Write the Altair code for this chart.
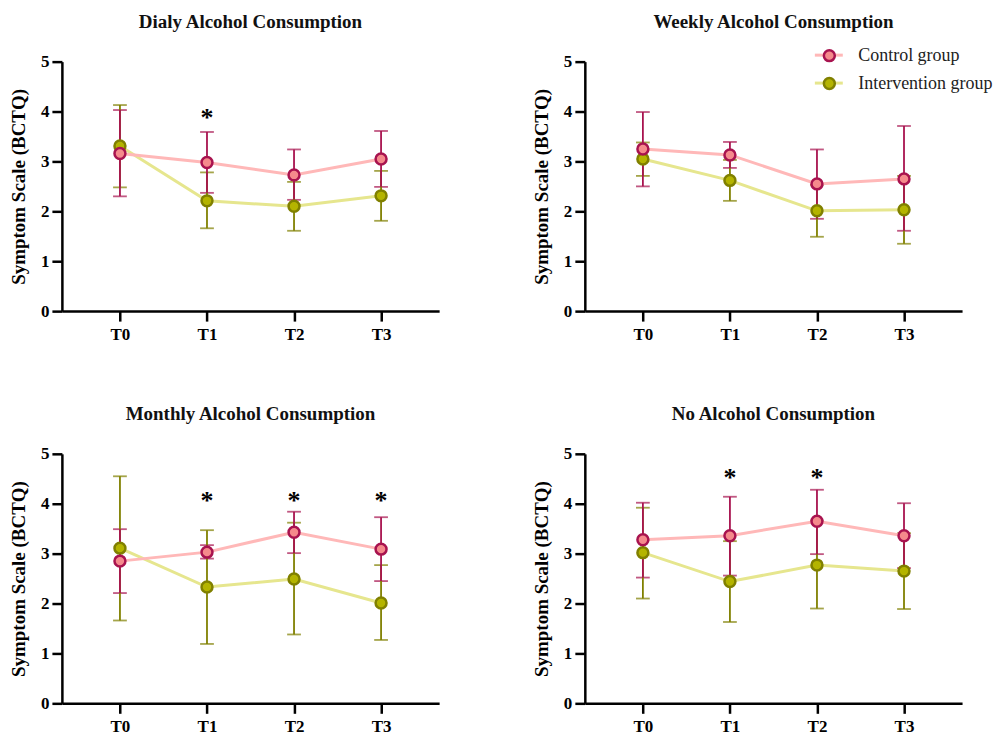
import altair as alt
import pandas as pd

times = ["T0", "T1", "T2", "T3"]
groups = ["Control group", "Intervention group"]
panel_titles = ["Dialy Alcohol Consumption", "Weekly Alcohol Consumption",
                "Monthly Alcohol Consumption", "No Alcohol Consumption"]

control_mean = [
    [3.16, 2.98, 2.73, 3.05],
    [3.25, 3.13, 2.55, 2.65],
    [2.85, 3.03, 3.43, 3.09],
    [3.28, 3.36, 3.65, 3.36],
]
control_low = [
    [2.30, 2.37, 2.23, 2.49],
    [2.50, 2.87, 1.85, 1.61],
    [2.21, 2.90, 3.01, 2.45],
    [2.52, 2.56, 2.99, 2.71],
]
control_high = [
    [4.03, 3.59, 3.24, 3.61],
    [3.99, 3.39, 3.24, 3.71],
    [3.49, 3.17, 3.84, 3.73],
    [4.02, 4.14, 4.28, 4.01],
]
interv_mean = [
    [3.31, 2.21, 2.10, 2.31],
    [3.05, 2.62, 2.01, 2.03],
    [3.11, 2.33, 2.49, 2.01],
    [3.02, 2.44, 2.77, 2.65],
]
interv_low = [
    [2.48, 1.66, 1.61, 1.81],
    [2.71, 2.21, 1.49, 1.35],
    [1.66, 1.19, 1.38, 1.27],
    [2.10, 1.63, 1.90, 1.89],
]
interv_high = [
    [4.13, 2.78, 2.59, 2.81],
    [3.38, 3.03, 2.53, 2.71],
    [4.55, 3.47, 3.62, 2.77],
    [3.92, 3.25, 3.65, 3.41],
]
star_panel = [0, 2, 2, 2, 3, 3]
star_time = ["T1", "T1", "T2", "T3", "T1", "T2"]
star_y = [3.98, 4.17, 4.17, 4.17, 4.64, 4.64]

FONT = "Liberation Serif"
C_LINE = ["#FFB8B8", "#E6E68E"]
C_FILL = ["#F58A8C", "#B4B400"]
C_STROKE = ["#A8134F", "#808000"]
Y_TITLE = "Symptom Scale (BCTQ)"


def make_panel(i, show_legend, title_offset=21):
    rows = []
    for g, m, lo, hi in ((groups[1], interv_mean[i], interv_low[i], interv_high[i]),
                         (groups[0], control_mean[i], control_low[i], control_high[i])):
        for t, a, b, c in zip(times, m, lo, hi):
            rows.append({"time": t, "group": g, "mean": a, "lo": b, "hi": c})
    df = pd.DataFrame(rows)
    sdf = pd.DataFrame({"time": [t for p, t in zip(star_panel, star_time) if p == i],
                        "y": [v for p, v in zip(star_panel, star_y) if p == i],
                        "s": ["*" for p in star_panel if p == i]})

    x = alt.X("time:N", scale=alt.Scale(type="point", domain=times, padding=0.667),
              axis=alt.Axis(title=None, labelAngle=0, labelFont=FONT, labelFontSize=17,
                            labelFontWeight="bold", labelColor="black", domainColor="black",
                            domainWidth=2.5, tickColor="black", tickWidth=2.5, tickSize=10,
                            labelPadding=5, grid=False))
    yscale = alt.Scale(domain=[0, 5], nice=False, zero=True)
    yaxis = alt.Axis(title=Y_TITLE, values=[0, 1, 2, 3, 4, 5], grid=False,
                     labelFont=FONT, labelFontSize=17, labelFontWeight="bold",
                     labelColor="black", domainColor="black", domainWidth=2.5,
                     tickColor="black", tickWidth=2.5, tickSize=10, labelPadding=3,
                     titleFont=FONT, titleFontSize=19, titleFontWeight="bold",
                     titleColor="black", titlePadding=12)

    stroke_scale = alt.Scale(domain=groups, range=C_STROKE)
    fill_scale = alt.Scale(domain=groups, range=C_FILL)
    line_scale = alt.Scale(range=C_LINE)

    if show_legend:
        pleg = alt.Legend(orient="none", legendX=236, legendY=-15, title=None,
                          labelFont=FONT, labelFontSize=18, labelColor="#222222",
                          symbolType="circle", symbolSize=120, symbolStrokeWidth=2.5,
                          symbolOpacity=1, rowPadding=6, labelOffset=20, zindex=1)
        lleg = alt.Legend(orient="none", legendX=229, legendY=-22, title=None,
                          labelExpr="''", symbolType="stroke", symbolSize=784,
                          symbolStrokeWidth=3, symbolOpacity=1, rowPadding=3,
                          labelFontSize=18, zindex=0)
    else:
        pleg = None
        lleg = None

    base = alt.Chart(df)
    err = base.mark_rule(strokeWidth=1.8).encode(
        x=x,
        y=alt.Y("lo:Q", scale=yscale, axis=yaxis, title=Y_TITLE),
        y2="hi:Q",
        stroke=alt.Stroke("group:N", scale=stroke_scale, legend=pleg),
    )
    caps = base.transform_fold(["lo", "hi"], as_=["k", "v"]).mark_tick(
        orient="horizontal", size=12, thickness=0.01, strokeWidth=1.8
    ).encode(
        x=x,
        y=alt.Y("v:Q", scale=yscale, axis=yaxis, title=Y_TITLE),
        stroke=alt.Stroke("group:N", scale=stroke_scale, legend=pleg),
    )
    line = base.transform_calculate(grp="datum.group").mark_line(strokeWidth=3).encode(
        x=x,
        y=alt.Y("mean:Q", scale=yscale, axis=yaxis, title=Y_TITLE),
        color=alt.Color("grp:N", scale=line_scale, legend=lleg),
        detail="group:N",
    )
    pts = base.mark_point(shape="circle", filled=True, size=120, strokeWidth=2.5,
                          opacity=1).encode(
        x=x,
        y=alt.Y("mean:Q", scale=yscale, axis=yaxis, title=Y_TITLE),
        fill=alt.Fill("group:N", scale=fill_scale, legend=pleg),
        stroke=alt.Stroke("group:N", scale=stroke_scale, legend=pleg),
    )
    layers = [caps, err, line, pts]
    if len(sdf):
        stars = alt.Chart(sdf).mark_text(font=FONT, fontSize=26, fontWeight="bold",
                                         color="black", baseline="middle", dy=6).encode(
            x=x,
            y=alt.Y("y:Q", scale=yscale, axis=yaxis, title=Y_TITLE),
            text="s:N",
        )
        layers.append(stars)
    return alt.layer(*layers).properties(
        width=378, height=250,
        title=alt.TitleParams(panel_titles[i], font=FONT, fontSize=19, fontWeight="bold",
                              color="#111111", offset=title_offset, anchor="middle"),
    )


RES = dict(color="independent", fill="independent", stroke="independent")
top = alt.hconcat(make_panel(0, False), make_panel(1, True, title_offset=8),
                  spacing=93).resolve_scale(**RES)
bottom = alt.hconcat(make_panel(2, False), make_panel(3, False), spacing=93).resolve_scale(**RES)
chart = alt.vconcat(top, bottom, spacing=63).resolve_scale(**RES).configure_view(
    stroke=None
).properties(
    padding={"left": 1, "top": 4, "right": 0, "bottom": 0},
    background="white",
)

chart.save("out.html", embed_options={"renderer": "svg", "actions": False})
